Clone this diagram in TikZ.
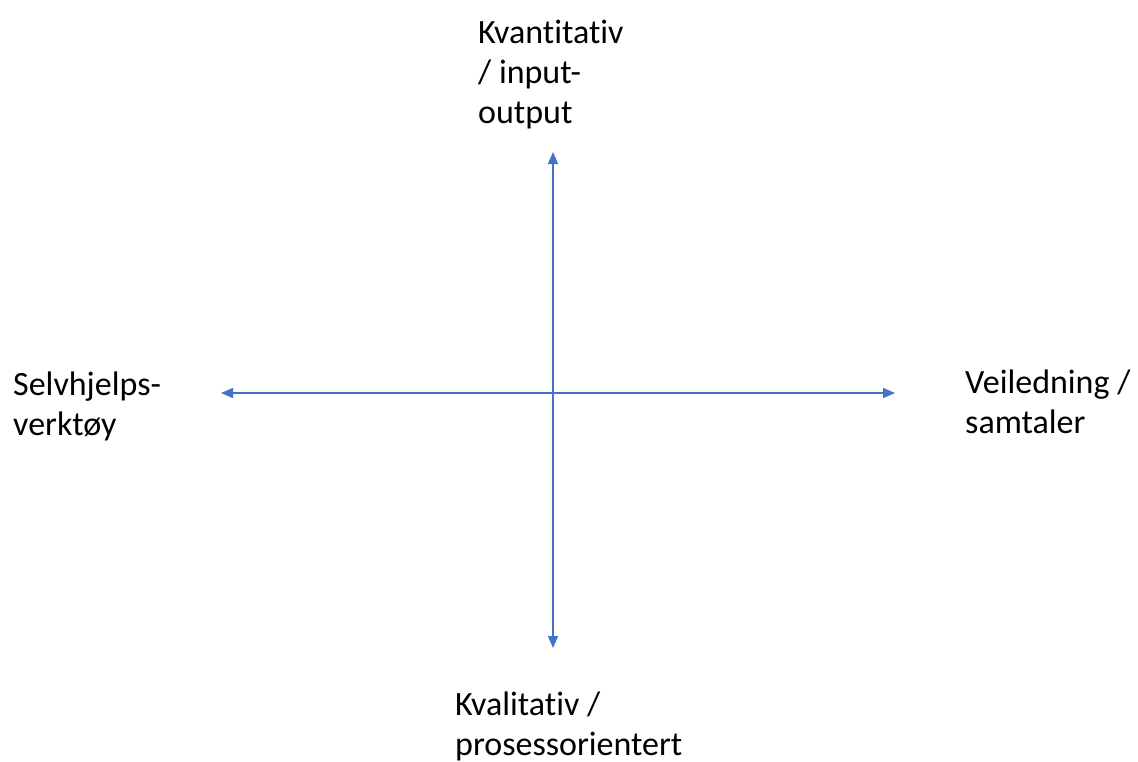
\documentclass[tikz,border=0pt]{standalone}
\usepackage{fontspec}
\setmainfont[Ligatures=NoCommon]{Carlito}
\usetikzlibrary{arrows.meta}
\definecolor{axisblue}{HTML}{4472C4}
\tikzset{
  axis/.style={draw=axisblue, line width=1.3pt, -{Triangle[length=12pt,width=10pt]}},
  lbl/.style={font=\fontsize{34}{40}\selectfont, align=left, anchor=base west, inner sep=0pt, text=black}
}
\begin{document}
\begin{tikzpicture}[x=1pt,y=-1pt]
\useasboundingbox (0,0) rectangle (1138,761);
\coordinate (c) at (553,393);
\coordinate (top) at (553,152);
\coordinate (bot) at (553,648);
\coordinate (lft) at (221,393);
\coordinate (rgt) at (895,393);
\draw[axis] (c) -- (top);
\draw[axis] (c) -- (bot);
\draw[axis] (c) -- (lft);
\draw[axis] (c) -- (rgt);
\node[lbl] (tl) at (478,123) {Kvantitativ\\/ input-\\output};
\node[lbl] (ll) at (13,435) {Selvhjelps-\\verktøy};
\node[lbl] (rl) at (965,433) {Veiledning /\\samtaler};
\node[lbl] (bl) at (455,755) {Kvalitativ /\\prosessorientert};
\end{tikzpicture}
\end{document}
